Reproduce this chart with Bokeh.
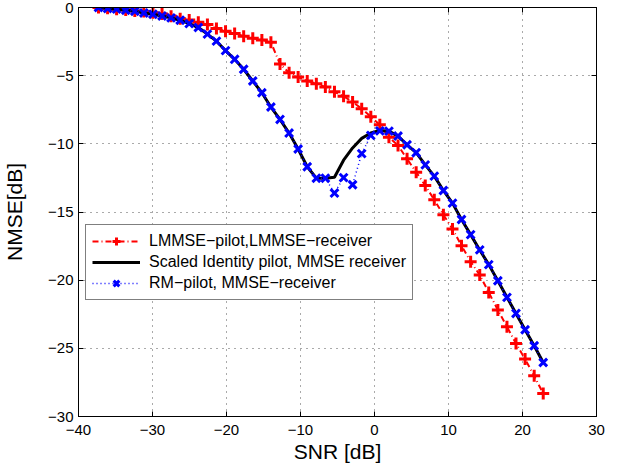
from bokeh.plotting import figure
from bokeh.models import Range1d, FixedTicker, LinearAxis, Legend, LegendItem
from bokeh.embed import file_html
from bokeh.resources import INLINE

# ---------------- data ----------------
snr = [-37.30, -36.07, -34.85, -33.62, -32.39, -31.17, -29.94, -28.71, -27.49, -26.26,
       -25.04, -23.81, -22.58, -21.36, -20.13, -18.90, -17.68, -16.45, -15.22, -14.00,
       -12.77, -11.54, -10.32, -9.09, -7.86, -6.64, -5.41, -4.18, -2.96, -1.73,
       -0.50, 0.72, 1.95, 3.18, 4.40, 5.63, 6.86, 8.08, 9.31, 10.54,
       11.76, 12.99, 14.22, 15.44, 16.67, 17.90, 19.12, 20.35, 21.58, 22.80]

nmse_lmmse = [0.0, -0.06, -0.12, -0.19, -0.26, -0.30, -0.38, -0.47, -0.64, -0.82,
              -0.92, -1.08, -1.25, -1.54, -1.74, -1.91, -2.10, -2.26, -2.38, -2.55,
              -4.15, -4.78, -5.10, -5.39, -5.59, -5.83, -6.18, -6.51, -6.93, -7.42,
              -8.02, -8.60, -9.51, -10.12, -11.10, -12.08, -13.06, -14.11, -15.21, -16.24,
              -17.47, -18.64, -19.62, -20.90, -22.19, -23.42, -24.64, -25.79, -27.02, -28.32]

nmse_scaled = [0.0, -0.07, -0.12, -0.20, -0.27, -0.40, -0.49, -0.62, -0.76, -0.93,
               -1.18, -1.47, -1.95, -2.47, -3.16, -3.80, -4.53, -5.39, -6.25, -7.30,
               -8.21, -9.21, -10.38, -11.68, -12.52, -12.52, -12.45, -11.20, -10.30, -9.60,
               -9.20, -9.02, -9.07, -9.43, -10.07, -10.65, -11.54, -12.37, -13.42, -14.35,
               -15.55, -16.66, -17.78, -18.86, -20.04, -21.26, -22.44, -23.64, -24.81, -26.04]

nmse_rm = [0.0, -0.07, -0.12, -0.20, -0.27, -0.40, -0.49, -0.62, -0.76, -0.93,
           -1.18, -1.47, -1.95, -2.47, -3.16, -3.80, -4.53, -5.39, -6.25, -7.30,
           -8.21, -9.21, -10.38, -11.68, -12.52, -12.52, -13.61, -12.48, -13.00, -10.72,
           -9.38, -9.05, -9.07, -9.43, -10.07, -10.65, -11.54, -12.37, -13.42, -14.35,
           -15.55, -16.66, -17.78, -18.86, -20.04, -21.26, -22.44, -23.64, -24.81, -26.04]

x_ticks = [-40, -30, -20, -10, 0, 10, 20, 30]
x_tick_labels = ["\u221240", "\u221230", "\u221220", "\u221210", "0", "10", "20", "30"]
y_ticks = [-30, -25, -20, -15, -10, -5, 0]
y_tick_labels = ["\u221230", "\u221225", "\u221220", "\u221215", "\u221210", "\u22125", "0"]

series_labels = ["LMMSE\u2212pilot,LMMSE\u2212receiver",
                 "Scaled Identity pilot, MMSE receiver",
                 "RM\u2212pilot, MMSE\u2212receiver"]

FONT = "Liberation Sans"

p = figure(width=621, height=468,
           x_range=Range1d(-40, 30), y_range=Range1d(-30, 0),
           output_backend="svg", toolbar_location=None,
           min_border_left=75, min_border_right=25,
           min_border_top=7, min_border_bottom=52)
p.background_fill_color = "white"
p.border_fill_color = "white"
p.outline_line_color = "black"
p.outline_line_width = 1

xax = p.xaxis[0]
yax = p.yaxis[0]
xax.ticker = FixedTicker(ticks=x_ticks)
yax.ticker = FixedTicker(ticks=y_ticks)
xax.major_label_overrides = dict(zip(x_ticks, x_tick_labels))
yax.major_label_overrides = dict(zip(y_ticks, y_tick_labels))
for ax in (xax, yax):
    ax.major_tick_in = 5
    ax.major_tick_out = 0
    ax.minor_tick_line_color = None
    ax.axis_line_color = "black"
    ax.major_tick_line_color = "black"
    ax.major_label_text_font = FONT
    ax.major_label_text_font_size = "15px"
    ax.major_label_text_color = "black"
    ax.axis_label_text_font = FONT
    ax.axis_label_text_font_size = "21px"
    ax.axis_label_text_font_style = "normal"
    ax.axis_label_text_color = "black"
xax.axis_label = "SNR [dB]"
yax.axis_label = "NMSE[dB]"
xax.major_label_standoff = 8
xax.axis_label_standoff = 2
yax.major_label_standoff = 5
yax.axis_label_standoff = 19

# box ticks on top and right (no labels)
for loc, tk in (("above", x_ticks), ("right", y_ticks)):
    ax = LinearAxis(ticker=FixedTicker(ticks=tk))
    ax.major_tick_in = 5
    ax.major_tick_out = 0
    ax.minor_tick_line_color = None
    ax.major_label_text_color = None
    ax.major_label_text_font_size = "1px"
    ax.major_label_standoff = 0
    ax.axis_line_color = "black"
    p.add_layout(ax, loc)

p.xgrid[0].ticker = FixedTicker(ticks=x_ticks)
p.ygrid[0].ticker = FixedTicker(ticks=y_ticks)
for g in (p.xgrid[0], p.ygrid[0]):
    g.grid_line_color = "#555555"
    g.grid_line_dash = "1 5"
    g.grid_line_width = 1

r_red_line = p.line(snr, nmse_lmmse, line_color="#ff0000", line_width=2, line_dash="6 3 1 3")
r_red_pts = p.scatter(snr, nmse_lmmse, marker="cross", size=12, line_color="#ff0000", line_width=3)
r_blk = p.line(snr, nmse_scaled, line_color="black", line_width=3)
r_blue_line = p.line(snr, nmse_rm, line_color="#0000ff", line_width=1.5, line_dash="1 3")
r_blue_pts = p.scatter(snr, nmse_rm, marker="x", size=11, line_color="#0000ff", line_width=3)

legend = Legend(items=[
    LegendItem(label=series_labels[0], renderers=[r_red_line, r_red_pts]),
    LegendItem(label=series_labels[1], renderers=[r_blk]),
    LegendItem(label=series_labels[2], renderers=[r_blue_line, r_blue_pts]),
], location=(7, 116))
legend.label_text_font = FONT
legend.label_text_font_size = "16px"
legend.label_text_color = "black"
legend.glyph_width = 48
legend.glyph_height = 20
legend.label_height = 20
legend.label_standoff = 9
legend.spacing = 1
legend.padding = 6
legend.margin = 0
legend.border_line_color = "black"
legend.border_line_width = 1
legend.background_fill_color = "white"
legend.background_fill_alpha = 1
p.add_layout(legend)

open("out.html", "w").write(file_html(p, INLINE))
